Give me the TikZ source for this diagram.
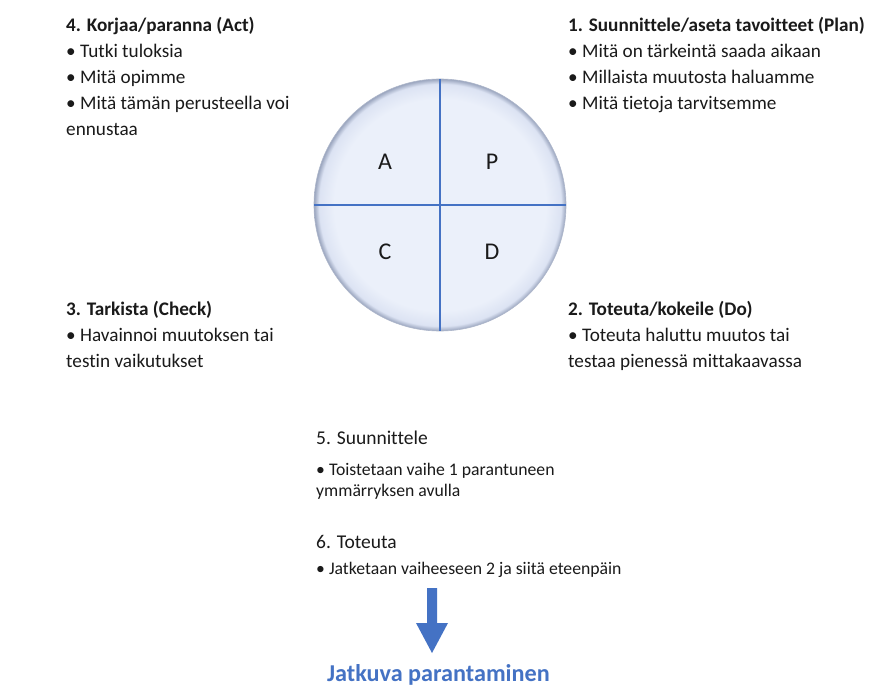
\documentclass[tikz,border=0pt]{standalone}
\usepackage{fontspec}
\setmainfont{Carlito}[Ligatures={NoCommon,NoRequired,NoContextual}]
\usetikzlibrary{calc}
\definecolor{txt}{HTML}{1A1A1A}
\definecolor{pdcablue}{HTML}{4472C4}
\definecolor{cin}{HTML}{EBF0FA}
\definecolor{cmid}{HTML}{DCE3F3}
\definecolor{cedge}{HTML}{9AA5BE}
\pgfdeclareradialshading{discshade}{\pgfpoint{0bp}{0bp}}{color(0bp)=(cin); color(21bp)=(cin); color(24bp)=(cmid); color(25bp)=(cedge); color(50bp)=(cedge)}
\begin{document}
\begin{tikzpicture}[x=1pt,y=-1pt,
  txtline/.style={anchor=base west, inner sep=0pt, text=txt, font=\fontsize{19.2}{23}\selectfont},
  headline/.style={txtline, font=\fontsize{19.2}{23}\selectfont\bfseries},
  lowhead/.style={txtline, font=\fontsize{19.5}{23}\selectfont},
  lowline/.style={txtline, font=\fontsize{17.7}{20}\selectfont},
  letter/.style={inner sep=0pt, text=txt, font=\fontsize{24}{28}\selectfont},
  divider/.style={draw=pdcablue, line width=1.4pt},
  finaltext/.style={anchor=base west, inner sep=0pt, text=pdcablue, font=\fontsize{24.2}{28}\selectfont\bfseries}]
\useasboundingbox (0,0) rectangle (870,687);
\fill[white] (0,0) rectangle (870,687);

% circle
\coordinate (c) at (440,205);
\shade[shading=discshade] (c) circle[radius=126];
\draw[cedge!80, line width=0.6pt] (c) circle[radius=126];
\coordinate (ctop) at (440,79);
\coordinate (cbot) at (440,331);
\coordinate (cleft) at (314,205);
\coordinate (cright) at (566,205);
\draw[divider] (ctop) -- (cbot);
\draw[divider] (cleft) -- (cright);
\node[letter] (lA) at (385,162) {A};
\node[letter] (lP) at (492,162) {P};
\node[letter] (lC) at (385,252) {C};
\node[letter] (lD) at (492,252) {D};

% Act
\node[headline] (act0) at (66,32) {4. Korjaa/paranna (Act)};
\node[txtline] (act1) at (66,58) {• Tutki tuloksia};
\node[txtline] (act2) at (66,84) {• Mitä opimme};
\node[txtline] (act3) at (66,110) {• Mitä tämän perusteella voi};
\node[txtline] (act4) at (66,136) {ennustaa};

% Plan
\node[headline] (plan0) at (568,32) {1. Suunnittele/aseta tavoitteet (Plan)};
\node[txtline] (plan1) at (568,58) {• Mitä on tärkeintä saada aikaan};
\node[txtline] (plan2) at (568,84) {• Millaista muutosta haluamme};
\node[txtline] (plan3) at (568,110) {• Mitä tietoja tarvitsemme};

% Check
\node[headline] (chk0) at (66,315) {3. Tarkista (Check)};
\node[txtline] (chk1) at (66,341) {• Havainnoi muutoksen tai};
\node[txtline] (chk2) at (66,367) {testin vaikutukset};

% Do
\node[headline] (do0) at (568,315) {2. Toteuta/kokeile (Do)};
\node[txtline] (do1) at (568,341) {• Toteuta haluttu muutos tai};
\node[txtline] (do2) at (568,367) {testaa pienessä mittakaavassa};

% bottom
\node[lowhead] (s5) at (316,444) {5. Suunnittele};
\node[lowline] (s5a) at (316,475) {• Toistetaan vaihe 1 parantuneen};
\node[lowline] (s5b) at (316,496) {ymmärryksen avulla};
\node[lowhead] (s6) at (316,548) {6. Toteuta};
\node[lowline] (s6a) at (316,574) {• Jatketaan vaiheeseen 2 ja siitä eteenpäin};

% arrow
\coordinate (arrtop) at (432,588);
\coordinate (arrtip) at (432,653);
\fill[pdcablue] (arrtop) ++(-5,0) -- ++(10,0) -- ($(arrtip)+(5,-30)$) -- ++(11,0) -- (arrtip) -- ++(-16,-30) -- ++(11,0) -- cycle;

\node[finaltext] (final) at (327,681) {Jatkuva parantaminen};
\end{tikzpicture}
\end{document}
